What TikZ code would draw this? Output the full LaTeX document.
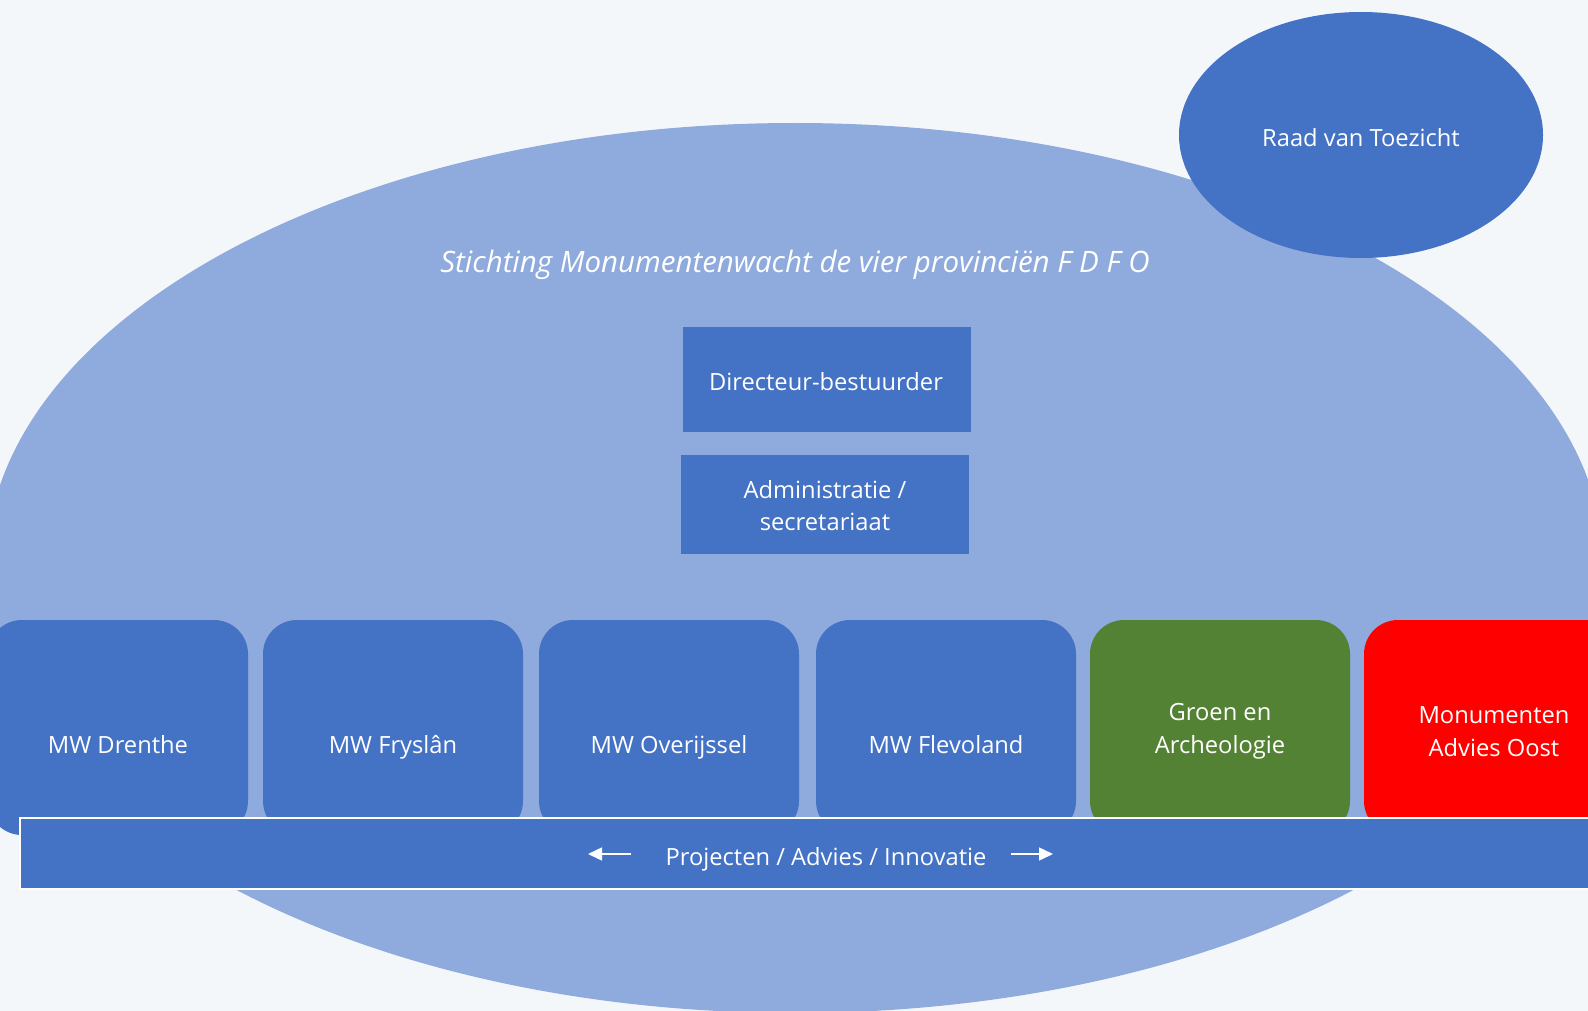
\documentclass[tikz,border=0pt]{standalone}
\usepackage{fontspec}
\setmainfont{Open Sans}
\usetikzlibrary{shapes.geometric,arrows.meta}
\definecolor{bgc}{HTML}{F4F7FA}
\definecolor{ellc}{HTML}{8FAADC}
\definecolor{darkc}{HTML}{4472C4}
\definecolor{greenc}{HTML}{548235}
\definecolor{redc}{HTML}{FF0000}
\tikzset{
  txt/.style={text=white, font=\fontsize{23.7}{32.5}\selectfont, align=center, inner sep=0pt},
  sqbox/.style={rectangle, fill=darkc, inner sep=0pt, minimum width=288pt},
  unit/.style={rectangle, rounded corners=34pt, inner sep=0pt, minimum width=260pt, minimum height=215pt},
  arr/.style={white, line width=1.5pt, -{Triangle[length=14pt,width=13pt]}}
}
\begin{document}
\begin{tikzpicture}[x=1pt,y=-1pt]
\fill[bgc] (0,0) rectangle (1588,1011);
\useasboundingbox (0,0) rectangle (1588,1011);
\begin{scope}
\clip (0,0) rectangle (1588,1011);
\node[ellipse, fill=ellc, minimum width=1618pt, minimum height=890pt, inner sep=0pt] (org) at (795,568) {};
\node[ellipse, fill=darkc, minimum width=364pt, minimum height=246pt, inner sep=0pt] (rvt) at (1361,135) {};
\node[txt] (rvtt) at (1361,138) {Raad van Toezicht};
\node[txt, font=\fontsize{29.5}{34}\selectfont\itshape] (title) at (795,265) {Stichting Monumentenwacht de vier provinciën F D F O};
\node[sqbox, minimum height=105pt] (dir) at (827,379.5) {};
\node[txt] (dirt) at (826,382) {Directeur-bestuurder};
\node[sqbox, minimum height=99pt] (adm) at (825,504.5) {};
\node[txt] (admt) at (825,505.5) {Administratie /\\secretariaat};
\node[unit, fill=darkc] (dre) at (118,727.5) {};
\node[unit, fill=darkc] (fry) at (393,727.5) {};
\node[unit, fill=darkc] (ove) at (669,727.5) {};
\node[unit, fill=darkc] (fle) at (946,727.5) {};
\node[unit, fill=greenc] (gra) at (1220,727.5) {};
\node[unit, fill=redc] (mao) at (1494,727.5) {};
\node[txt, anchor=base] (dret) at ([yshift=-26pt]dre.center) {MW Drenthe};
\node[txt, anchor=base] (fryt) at ([yshift=-26pt]fry.center) {MW Fryslân};
\node[txt, anchor=base] (ovet) at ([yshift=-26pt]ove.center) {MW Overijssel};
\node[txt, anchor=base] (flet) at ([yshift=-26pt]fle.center) {MW Flevoland};
\node[txt] (grat) at ([yshift=-4pt]gra.center) {Groen en\\Archeologie};
\node[txt] (maot) at ([yshift=-4pt]mao.center) {Monumenten\\Advies Oost};
\node[rectangle, fill=darkc, draw=white, line width=1.5pt, minimum width=1590pt, minimum height=71pt, inner sep=0pt] (bar) at (815,853.5) {};
\node[txt] (bart) at (826,859) {Projecten / Advies / Innovatie};
\coordinate (la) at (631,854);
\coordinate (lb) at (588,854);
\coordinate (ra) at (1011,854);
\coordinate (rb) at (1053,854);
\draw[arr] (la) -- (lb);
\draw[arr] (ra) -- (rb);
\end{scope}
\end{tikzpicture}
\end{document}
